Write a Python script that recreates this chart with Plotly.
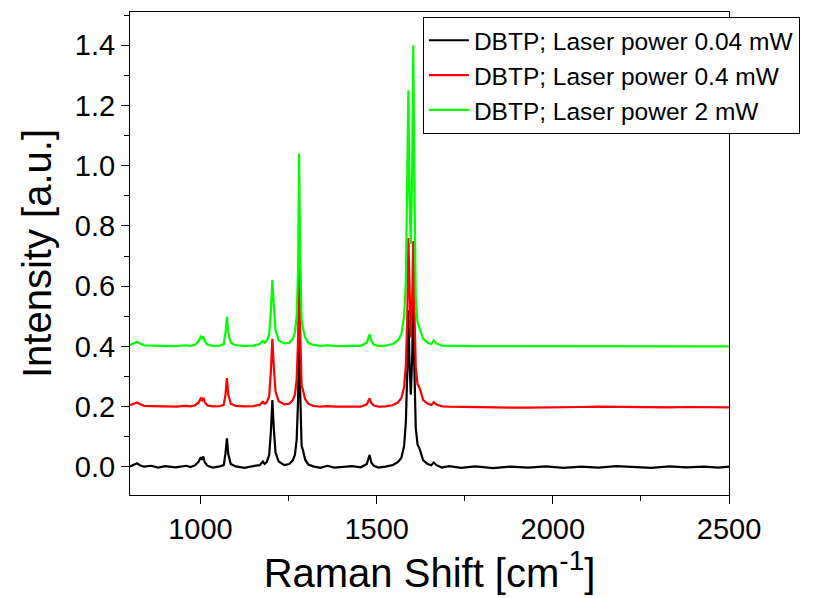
import plotly.graph_objects as go

shift = [800, 812, 820, 828, 840, 860, 880, 900, 930, 960,
         972, 985, 995, 1001, 1005, 1008, 1012, 1020, 1035, 1055,
         1066, 1071, 1075, 1079, 1086, 1100, 1125, 1150, 1168, 1177,
         1182, 1188, 1195, 1200, 1204, 1208, 1213, 1222, 1238, 1252,
         1262, 1268, 1273, 1277, 1280, 1283, 1287, 1291, 1297, 1306,
         1320, 1340, 1360, 1380, 1405, 1430, 1455, 1472, 1480, 1485,
         1492, 1505, 1525, 1545, 1560, 1570, 1578, 1583, 1587, 1590,
         1593, 1597, 1601, 1604, 1607, 1611, 1616, 1622, 1632, 1645,
         1655, 1662, 1670, 1685, 1705, 1740, 1780, 1830, 1880, 1930,
         1980, 2030, 2080, 2130, 2180, 2230, 2280, 2330, 2380, 2430,
         2470, 2500]

p004 = [0.002, 0.008, 0.012, 0.006, 0.001, 0.004, -0.002, 0.003, -0.001, 0.004,
        0.000, 0.006, 0.018, 0.032, 0.024, 0.035, 0.016, 0.004, -0.002, 0.002,
        0.006, 0.045, 0.095, 0.042, 0.010, 0.002, -0.003, 0.003, 0.006, 0.018,
        0.010, 0.016, 0.040, 0.120, 0.222, 0.130, 0.048, 0.018, 0.006, 0.010,
        0.022, 0.040, 0.090, 0.220, 0.500, 0.250, 0.070, 0.055, 0.025, 0.008,
        0.002, -0.003, 0.004, -0.002, 0.001, 0.003, -0.001, 0.010, 0.040, 0.014,
        0.004, -0.002, 0.001, 0.006, 0.016, 0.030, 0.070, 0.150, 0.320, 0.520,
        0.350, 0.240, 0.370, 0.560, 0.330, 0.130, 0.075, 0.060, 0.022, 0.010,
        0.006, 0.015, 0.006, -0.002, 0.003, -0.003, 0.002, -0.004, 0.001, -0.002,
        0.002, -0.003, 0.001, -0.002, 0.003, 0.000, -0.003, 0.002, -0.001, 0.001,
        -0.002, 0.001]

p04 = [0.205, 0.212, 0.214, 0.209, 0.203, 0.202, 0.201, 0.200, 0.200, 0.203,
       0.201, 0.205, 0.215, 0.228, 0.222, 0.230, 0.215, 0.204, 0.201, 0.202,
       0.206, 0.240, 0.295, 0.240, 0.210, 0.203, 0.201, 0.202, 0.206, 0.216,
       0.210, 0.215, 0.235, 0.320, 0.425, 0.335, 0.250, 0.218, 0.208, 0.210,
       0.222, 0.240, 0.290, 0.420, 0.700, 0.450, 0.270, 0.255, 0.225, 0.210,
       0.203, 0.200, 0.202, 0.200, 0.200, 0.201, 0.200, 0.208, 0.228, 0.212,
       0.204, 0.200, 0.201, 0.205, 0.214, 0.228, 0.265, 0.340, 0.500, 0.760,
       0.560, 0.430, 0.560, 0.750, 0.530, 0.330, 0.275, 0.262, 0.222, 0.210,
       0.206, 0.215, 0.207, 0.201, 0.200, 0.199, 0.198, 0.198, 0.197, 0.197,
       0.197, 0.198, 0.199, 0.200, 0.199, 0.200, 0.199, 0.198, 0.199, 0.198,
       0.199, 0.198]

p2 = [0.405, 0.412, 0.416, 0.410, 0.404, 0.403, 0.402, 0.401, 0.401, 0.404,
      0.402, 0.406, 0.418, 0.432, 0.425, 0.434, 0.418, 0.406, 0.402, 0.403,
      0.408, 0.445, 0.498, 0.445, 0.412, 0.404, 0.402, 0.403, 0.408, 0.418,
      0.412, 0.418, 0.440, 0.520, 0.620, 0.540, 0.455, 0.420, 0.410, 0.412,
      0.425, 0.445, 0.500, 0.650, 1.040, 0.700, 0.490, 0.460, 0.430, 0.412,
      0.405, 0.402, 0.404, 0.402, 0.401, 0.403, 0.402, 0.412, 0.440, 0.418,
      0.406, 0.402, 0.403, 0.408, 0.420, 0.440, 0.500, 0.620, 0.900, 1.250,
      0.900, 0.740, 1.000, 1.400, 0.950, 0.560, 0.480, 0.460, 0.425, 0.412,
      0.408, 0.420, 0.410, 0.403, 0.402, 0.402, 0.401, 0.401, 0.402, 0.401,
      0.401, 0.400, 0.401, 0.401, 0.400, 0.401, 0.400, 0.400, 0.401, 0.400,
      0.401, 0.400]

names = ["DBTP; Laser power 0.04 mW", "DBTP; Laser power 0.4 mW", "DBTP; Laser power 2 mW"]
series = [p004, p04, p2]
colors = ["#000000", "#ff0000", "#00ff00"]

fig = go.Figure()
for nm, ys, c in zip(names, series, colors):
    fig.add_trace(go.Scatter(x=shift, y=ys, mode="lines", name=nm,
                             line=dict(color=c, width=2.2)))

font_family = "Liberation Sans, Arial, sans-serif"
fig.update_layout(
    width=819, height=598,
    margin=dict(l=130, r=90, t=12, b=103),
    plot_bgcolor="white", paper_bgcolor="white",
    font=dict(family=font_family, color="black"),
    showlegend=True,
    legend=dict(x=0.489, y=0.99, xanchor="left", yanchor="top",
                bgcolor="white", bordercolor="black", borderwidth=1,
                font=dict(size=24.5, family=font_family), tracegroupgap=0,
                itemwidth=40),
)
fig.update_xaxes(range=[800, 2500], tickvals=[1000, 1500, 2000, 2500],
                 ticks="outside", ticklen=8, tickwidth=1, tickcolor="black",
                 minor=dict(tickvals=[1250, 1750, 2250], ticks="outside", ticklen=5, tickcolor="black"),
                 showline=True, linecolor="black", linewidth=1, mirror=True,
                 showgrid=False, zeroline=False,
                 tickfont=dict(size=29),
                 title=dict(text="Raman Shift [cm<sup>-1</sup>]", font=dict(size=40), standoff=8))
fig.update_yaxes(range=[-0.093, 1.51], tickvals=[0, 0.2, 0.4, 0.6, 0.8, 1.0, 1.2, 1.4],
                 ticktext=["0.0", "0.2", "0.4", "0.6", "0.8", "1.0", "1.2", "1.4"],
                 ticks="outside", ticklen=8, tickwidth=1, tickcolor="black",
                 minor=dict(tickvals=[0.1, 0.3, 0.5, 0.7, 0.9, 1.1, 1.3, 1.5], ticks="outside", ticklen=5, tickcolor="black"),
                 showline=True, linecolor="black", linewidth=1, mirror=True,
                 showgrid=False, zeroline=False,
                 tickfont=dict(size=29),
                 title=dict(text="Intensity [a.u.]", font=dict(size=40), standoff=10))

fig.write_html("out.html")
